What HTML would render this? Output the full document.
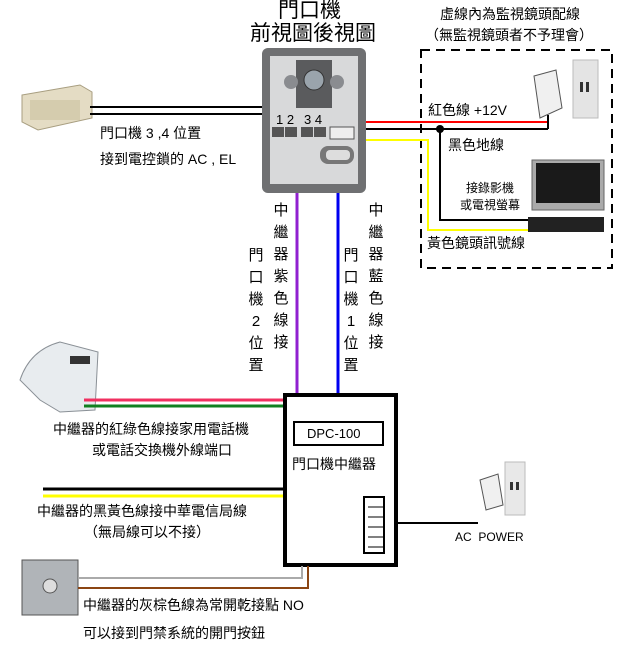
<!DOCTYPE html>
<html><head><meta charset="utf-8"><style>
body{margin:0;width:639px;height:652px;background:#fff;position:relative;overflow:hidden;font-family:"Liberation Sans","Noto Sans CJK TC",sans-serif;color:#000}
.t{position:absolute;white-space:nowrap;font-size:14px;line-height:16px}
.v{position:absolute;font-size:15px;line-height:22px;width:16px;text-align:center}
</style></head><body>
<svg width="639" height="652" style="position:absolute;left:0;top:0">
<!-- lock -->
<g><path d="M22 95 L80 85 L92 92 L92 118 L38 130 L22 122Z" fill="#e4dcc4" stroke="#a89e80"/><rect x="30" y="100" width="50" height="20" fill="#d5ccae"/></g>
<line x1="90" y1="107" x2="262" y2="107" stroke="#000" stroke-width="2"/>
<line x1="90" y1="114" x2="262" y2="114" stroke="#000" stroke-width="2"/>
<!-- doorbell panel -->
<rect x="262" y="48" width="104" height="145" rx="6" fill="#6f7072"/>
<rect x="270" y="56" width="88" height="128" fill="#d8d9da"/>
<rect x="296" y="60" width="36" height="48" fill="#5a5b5d"/>
<circle cx="314" cy="80" r="10" fill="#9aa4ac" stroke="#333"/>
<circle cx="291" cy="82" r="7" fill="#8a8c90"/><circle cx="337" cy="82" r="7" fill="#8a8c90"/>
<rect x="272" y="127" width="12" height="10" fill="#555"/><rect x="285" y="127" width="12" height="10" fill="#555"/>
<rect x="301" y="127" width="12" height="10" fill="#555"/><rect x="314" y="127" width="12" height="10" fill="#555"/>
<rect x="330" y="127" width="24" height="12" fill="#eee" stroke="#555"/>
<rect x="320" y="146" width="34" height="18" rx="8" fill="#777"/><rect x="326" y="150" width="24" height="10" rx="4" fill="#ddd"/>
<!-- dashed box -->
<rect x="421" y="50" width="191" height="218" fill="none" stroke="#000" stroke-width="2" stroke-dasharray="9,6"/>
<!-- wires right -->
<line x1="366" y1="122" x2="548" y2="122" stroke="#f00" stroke-width="2"/>
<line x1="366" y1="129" x2="548" y2="129" stroke="#000" stroke-width="2"/>
<line x1="548" y1="115" x2="548" y2="129" stroke="#000" stroke-width="2"/>
<circle cx="440" cy="129" r="4" fill="#000"/>
<polyline points="440,129 440,220 530,220" fill="none" stroke="#000" stroke-width="2"/>
<polyline points="366,140 428,140 428,230 530,230" fill="none" stroke="#ff0" stroke-width="2"/>
<!-- adapter top -->
<path d="M534 76 L556 70 L562 108 L540 118Z" fill="#f0f0f0" stroke="#555"/>
<rect x="573" y="60" width="25" height="58" fill="#e4e4e4" stroke="#bbb"/>
<rect x="580" y="82" width="3" height="10" fill="#333"/><rect x="586" y="82" width="3" height="10" fill="#333"/>
<!-- TV -->
<rect x="532" y="160" width="72" height="50" fill="#aaa" stroke="#666"/>
<rect x="536" y="163" width="64" height="40" fill="#1a1a1a"/>
<rect x="528" y="217" width="76" height="15" fill="#222"/>
<!-- vertical wires -->
<line x1="297" y1="193" x2="297" y2="393" stroke="#9020d0" stroke-width="3"/>
<line x1="338" y1="193" x2="338" y2="393" stroke="#0000f0" stroke-width="3"/>
<!-- DPC box -->
<rect x="285" y="395" width="111" height="170" fill="#fff" stroke="#000" stroke-width="4"/>
<rect x="294" y="422" width="89" height="23" fill="#fff" stroke="#000" stroke-width="2"/>
<rect x="364" y="497" width="20" height="56" fill="#fff" stroke="#000" stroke-width="2"/>
<g stroke="#000"><line x1="368" y1="507" x2="384" y2="507"/><line x1="368" y1="517" x2="384" y2="517"/><line x1="368" y1="527" x2="384" y2="527"/><line x1="368" y1="537" x2="384" y2="537"/><line x1="368" y1="547" x2="384" y2="547"/></g>
<line x1="398" y1="523" x2="478" y2="523" stroke="#000" stroke-width="2"/>
<path d="M480 480 L498 474 L503 505 L486 510Z" fill="#f0f0f0" stroke="#555"/>
<rect x="505" y="462" width="20" height="53" fill="#e8e8e8" stroke="#bbb"/>
<rect x="510" y="482" width="3" height="8" fill="#333"/><rect x="516" y="482" width="3" height="8" fill="#333"/>
<!-- phone -->
<path d="M20 380 Q30 350 60 342 L98 352 L95 410 L60 412 L40 400Z" fill="#e8ecef" stroke="#8a9096"/>
<rect x="70" y="356" width="20" height="8" fill="#333"/>
<line x1="84" y1="400" x2="283" y2="400" stroke="#f03060" stroke-width="3"/>
<line x1="84" y1="406" x2="283" y2="406" stroke="#108020" stroke-width="3"/>
<line x1="43" y1="489" x2="283" y2="489" stroke="#000" stroke-width="3"/>
<line x1="43" y1="496" x2="283" y2="496" stroke="#ff0" stroke-width="3"/>
<!-- exit button -->
<rect x="22" y="560" width="56" height="55" fill="#b0b4b8" stroke="#555"/>
<circle cx="50" cy="586" r="7" fill="#ddd" stroke="#555"/>
<polyline points="78,578 302,578 302,566" fill="none" stroke="#aaa" stroke-width="2"/>
<polyline points="78,588 308,588 308,566" fill="none" stroke="#8b4513" stroke-width="2"/>
</svg>
<div class="t" style="left:278px;top:0;font-size:21px;line-height:22px">門口機</div>
<div class="t" style="left:250px;top:22px;font-size:21px;line-height:24px">前視圖後視圖</div>
<div class="t" style="left:276px;top:112px;font-size:13px">1 2</div>
<div class="t" style="left:304px;top:112px;font-size:13px">3 4</div>
<div class="t" style="left:440px;top:6px">虛線內為監視鏡頭配線</div>
<div class="t" style="left:425px;top:27px">（無監視鏡頭者不予理會）</div>
<div class="t" style="left:428px;top:102px">紅色線 +12V</div>
<div class="t" style="left:448px;top:137px">黑色地線</div>
<div class="t" style="left:466px;top:180px;font-size:12px">接錄影機</div>
<div class="t" style="left:460px;top:197px;font-size:12px">或電視螢幕</div>
<div class="t" style="left:427px;top:235px">黃色鏡頭訊號線</div>
<div class="t" style="left:100px;top:125px">門口機 3 ,4 位置</div>
<div class="t" style="left:100px;top:151px">接到電控鎖的 AC , EL</div>
<div class="v" style="left:273px;top:200px">中<br>繼<br>器<br>紫<br>色<br>線<br>接</div>
<div class="v" style="left:248px;top:245px">門<br>口<br>機<br>2<br>位<br>置</div>
<div class="v" style="left:368px;top:200px">中<br>繼<br>器<br>藍<br>色<br>線<br>接</div>
<div class="v" style="left:343px;top:245px">門<br>口<br>機<br>1<br>位<br>置</div>
<div class="t" style="left:307px;top:426px;font-size:13px">DPC-100</div>
<div class="t" style="left:292px;top:456px">門口機中繼器</div>
<div class="t" style="left:455px;top:529px;font-size:12px">AC &nbsp;POWER</div>
<div class="t" style="left:53px;top:421px">中繼器的紅綠色線接家用電話機</div>
<div class="t" style="left:92px;top:442px">或電話交換機外線端口</div>
<div class="t" style="left:37px;top:503px">中繼器的黑黃色線接中華電信局線</div>
<div class="t" style="left:84px;top:524px">（無局線可以不接）</div>
<div class="t" style="left:83px;top:597px">中繼器的灰棕色線為常開乾接點 NO</div>
<div class="t" style="left:83px;top:625px">可以接到門禁系統的開門按鈕</div>
</body></html>
